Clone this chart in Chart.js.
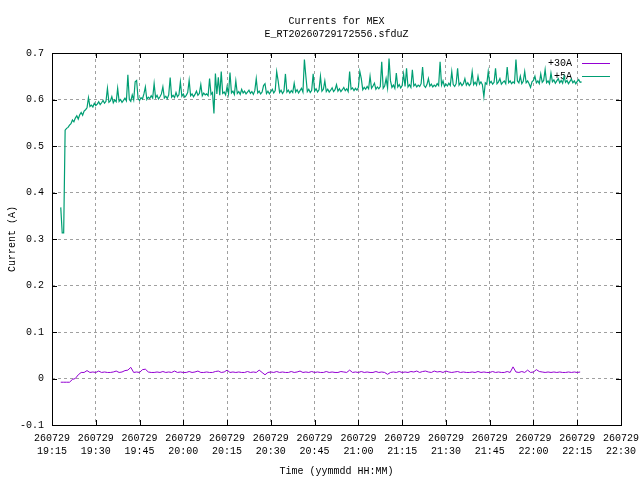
<!DOCTYPE html>
<html lang="en">
<head>
    <meta charset="UTF-8">
    <title>Currents for MEX</title>
    <script src="https://cdn.jsdelivr.net/npm/chart.js"></script>
    <style>
        body { margin: 0; background: #fff; }
        canvas { display: block; }
    </style>
</head>
<body>
<canvas id="myChart" width="640" height="480"></canvas>
<script>
    // x axis: minutes after 19:15
    const xTickDate = '260729';
    const xTickTimes = ['19:15', '19:30', '19:45', '20:00', '20:15', '20:30', '20:45',
        '21:00', '21:15', '21:30', '21:45', '22:00', '22:15', '22:30'];
    const xMax = 195;
    const xStep = 15;

    const yMin = -0.1;
    const yMax = 0.7;
    const yStep = 0.1;

    // +30A, one sample per minute starting at 19:18
    const thirtyAStart = 3.0;
    const thirtyAStep = 1.0;
    const thirtyA = [
        -0.008, -0.008, -0.008, -0.008, -0.002, 0.000, 0.008, 0.013, 0.013, 0.017,
        0.013, 0.014, 0.013, 0.016, 0.013, 0.014, 0.013, 0.013, 0.014, 0.016,
        0.013, 0.014, 0.017, 0.018, 0.024, 0.013, 0.014, 0.013, 0.019, 0.020,
        0.014, 0.013, 0.013, 0.014, 0.013, 0.015, 0.013, 0.014, 0.013, 0.016,
        0.013, 0.014, 0.013, 0.013, 0.015, 0.013, 0.014, 0.016, 0.013, 0.013,
        0.014, 0.013, 0.013, 0.015, 0.016, 0.013, 0.014, 0.018, 0.013, 0.014,
        0.013, 0.014, 0.013, 0.013, 0.015, 0.013, 0.014, 0.013, 0.018, 0.013,
        0.008, 0.013, 0.014, 0.013, 0.015, 0.013, 0.014, 0.013, 0.013, 0.015,
        0.013, 0.014, 0.016, 0.013, 0.014, 0.013, 0.015, 0.013, 0.014, 0.013,
        0.013, 0.015, 0.013, 0.014, 0.013, 0.013, 0.015, 0.014, 0.013, 0.018,
        0.013, 0.014, 0.013, 0.015, 0.013, 0.014, 0.013, 0.013, 0.015, 0.013,
        0.014, 0.013, 0.009, 0.013, 0.014, 0.013, 0.015, 0.013, 0.014, 0.013,
        0.015, 0.014, 0.016, 0.013, 0.015, 0.016, 0.014, 0.013, 0.016, 0.014,
        0.015, 0.013, 0.016, 0.014, 0.013, 0.014, 0.015, 0.013, 0.014, 0.013,
        0.013, 0.014, 0.013, 0.015, 0.013, 0.014, 0.013, 0.013, 0.015, 0.013,
        0.014, 0.013, 0.013, 0.015, 0.013, 0.025, 0.014, 0.013, 0.015, 0.013,
        0.018, 0.013, 0.014, 0.019, 0.015, 0.014, 0.013, 0.014, 0.013, 0.014,
        0.013, 0.014, 0.013, 0.013, 0.014, 0.013, 0.014, 0.013, 0.014
    ];

    // +5A, one sample every 30 s starting at 19:18
    const fiveAStart = 3.0;
    const fiveAStep = 0.5;
    const fiveA = [
        0.368, 0.313, 0.313, 0.534, 0.538, 0.540, 0.545, 0.548, 0.556, 0.552, 0.560, 0.565, 0.558, 0.567, 0.572, 0.566, 0.575, 0.578, 0.582, 0.604,
        0.585, 0.588, 0.584, 0.592, 0.587, 0.590, 0.595, 0.589, 0.593, 0.598, 0.592, 0.596, 0.624, 0.594, 0.597, 0.606, 0.593, 0.599, 0.595, 0.624,
        0.596, 0.600, 0.594, 0.598, 0.603, 0.597, 0.653, 0.600, 0.596, 0.610, 0.599, 0.638, 0.641, 0.602, 0.598, 0.604, 0.601, 0.612, 0.627, 0.600,
        0.605, 0.602, 0.608, 0.603, 0.634, 0.604, 0.609, 0.601, 0.606, 0.612, 0.627, 0.603, 0.607, 0.602, 0.610, 0.647, 0.605, 0.609, 0.604, 0.615,
        0.606, 0.610, 0.638, 0.607, 0.612, 0.605, 0.609, 0.615, 0.641, 0.608, 0.612, 0.606, 0.611, 0.618, 0.609, 0.613, 0.632, 0.608, 0.614, 0.610,
        0.612, 0.608, 0.645, 0.611, 0.615, 0.570, 0.656, 0.612, 0.648, 0.609, 0.660, 0.613, 0.616, 0.610, 0.628, 0.612, 0.658, 0.614, 0.618, 0.611,
        0.640, 0.613, 0.617, 0.611, 0.622, 0.614, 0.618, 0.612, 0.616, 0.620, 0.613, 0.617, 0.611, 0.619, 0.645, 0.614, 0.618, 0.612, 0.616, 0.630,
        0.634, 0.613, 0.618, 0.612, 0.617, 0.622, 0.614, 0.619, 0.660, 0.640, 0.615, 0.620, 0.613, 0.618, 0.655, 0.616, 0.620, 0.614, 0.619, 0.615,
        0.635, 0.616, 0.621, 0.614, 0.619, 0.624, 0.616, 0.686, 0.650, 0.617, 0.622, 0.615, 0.620, 0.655, 0.618, 0.623, 0.616, 0.621, 0.650, 0.618,
        0.622, 0.640, 0.617, 0.622, 0.616, 0.620, 0.625, 0.617, 0.621, 0.632, 0.618, 0.623, 0.617, 0.621, 0.626, 0.619, 0.623, 0.617, 0.660, 0.622,
        0.625, 0.619, 0.624, 0.620, 0.626, 0.660, 0.645, 0.621, 0.626, 0.622, 0.628, 0.623, 0.650, 0.624, 0.629, 0.635, 0.622, 0.627, 0.623, 0.628,
        0.681, 0.624, 0.629, 0.645, 0.625, 0.688, 0.640, 0.626, 0.631, 0.624, 0.657, 0.627, 0.632, 0.625, 0.630, 0.655, 0.628, 0.667, 0.627, 0.632,
        0.626, 0.664, 0.629, 0.633, 0.627, 0.631, 0.628, 0.634, 0.670, 0.630, 0.626, 0.632, 0.645, 0.629, 0.633, 0.627, 0.631, 0.628, 0.634, 0.630,
        0.681, 0.631, 0.640, 0.628, 0.633, 0.629, 0.635, 0.630, 0.660, 0.632, 0.628, 0.634, 0.667, 0.631, 0.636, 0.630, 0.634, 0.645, 0.631, 0.636,
        0.630, 0.634, 0.660, 0.632, 0.637, 0.631, 0.650, 0.633, 0.638, 0.632, 0.606, 0.636, 0.633, 0.660, 0.635, 0.639, 0.633, 0.637, 0.667, 0.634,
        0.638, 0.645, 0.633, 0.637, 0.640, 0.634, 0.670, 0.636, 0.640, 0.634, 0.638, 0.635, 0.686, 0.640, 0.636, 0.650, 0.634, 0.639, 0.660, 0.636,
        0.640, 0.634, 0.626, 0.638, 0.641, 0.650, 0.636, 0.640, 0.634, 0.655, 0.637, 0.641, 0.664, 0.636, 0.640, 0.634, 0.657, 0.638, 0.642, 0.635,
        0.640, 0.645, 0.636, 0.641, 0.635, 0.650, 0.637, 0.641, 0.634, 0.639, 0.644, 0.636, 0.640, 0.634, 0.639, 0.643, 0.637, 0.638
    ];

    const FONT = '"Liberation Mono", "DejaVu Sans Mono", monospace';

    // gnuplot style frame, inward tick marks and key inside the plot
    const gnuplotLook = {
        id: 'gnuplotLook',
        beforeDraw(chart) {
            const ctx = chart.ctx;
            ctx.save();
            ctx.fillStyle = '#fff';
            ctx.fillRect(0, 0, chart.width, chart.height);
            ctx.restore();
        },
        beforeDatasetsDraw(chart) {
            const { ctx, chartArea: a } = chart;
            ctx.save();
            ctx.font = '10px ' + FONT;
            ctx.textAlign = 'right';
            ctx.textBaseline = 'middle';
            chart.data.datasets.forEach((ds, i) => {
                const yy = Math.round(a.top + 10 + i * 12.5) + 0.5;
                ctx.fillStyle = '#000';
                ctx.fillText(ds.label, a.right - 49, yy);
                ctx.strokeStyle = ds.borderColor;
                ctx.lineWidth = 1;
                ctx.beginPath();
                ctx.moveTo(a.right - 39, yy);
                ctx.lineTo(a.right - 11, yy);
                ctx.stroke();
            });
            ctx.restore();
        },
        afterDatasetsDraw(chart) {
            const { ctx, chartArea: a, scales } = chart;
            ctx.save();
            ctx.strokeStyle = '#000';
            ctx.lineWidth = 1;
            ctx.beginPath();
            scales.x.ticks.forEach(t => {
                const px = Math.round(scales.x.getPixelForValue(t.value)) + 0.5;
                ctx.moveTo(px, a.bottom); ctx.lineTo(px, a.bottom - 5);
                ctx.moveTo(px, a.top); ctx.lineTo(px, a.top + 5);
            });
            scales.y.ticks.forEach(t => {
                const py = Math.round(scales.y.getPixelForValue(t.value)) + 0.5;
                ctx.moveTo(a.left, py); ctx.lineTo(a.left + 5, py);
                ctx.moveTo(a.right, py); ctx.lineTo(a.right - 5, py);
            });
            ctx.stroke();
            ctx.strokeRect(Math.round(a.left) + 0.5, Math.round(a.top) + 0.5,
                Math.round(a.right - a.left), Math.round(a.bottom - a.top));
            ctx.restore();
        }
    };

    function toPoints(start, step, values) {
        return values.map((v, i) => ({ x: start + i * step, y: v }));
    }

    const ctx = document.getElementById('myChart').getContext('2d');

    new Chart(ctx, {
        type: 'line',
        data: {
            datasets: [
                {
                    label: '+30A',
                    data: toPoints(thirtyAStart, thirtyAStep, thirtyA),
                    borderColor: '#9400d3',
                    borderWidth: 1,
                    pointRadius: 0,
                    tension: 0
                },
                {
                    label: '+5A',
                    data: toPoints(fiveAStart, fiveAStep, fiveA),
                    borderColor: '#009e73',
                    borderWidth: 1.2,
                    pointRadius: 0,
                    tension: 0
                }
            ]
        },
        options: {
            responsive: false,
            animation: false,
            devicePixelRatio: 1,
            layout: {
                padding: { left: 0, right: 19, top: 0, bottom: 0 }
            },
            scales: {
                x: {
                    type: 'linear',
                    min: 0,
                    max: xMax,
                    afterFit: scale => {
                        scale.height = 55;
                        scale.paddingLeft = 0;
                        scale.paddingRight = 0;
                    },
                    ticks: {
                        stepSize: xStep,
                        autoSkip: false,
                        maxRotation: 0,
                        padding: 7,
                        color: '#000',
                        font: { family: FONT, size: 10, lineHeight: 1.3 },
                        callback: (value, index) => [xTickDate, xTickTimes[index]]
                    },
                    grid: { color: '#a0a0a0', lineWidth: 1, drawTicks: false },
                    border: { display: false, dash: [3, 3] },
                    title: {
                        display: true,
                        text: 'Time (yymmdd HH:MM)',
                        color: '#000',
                        font: { family: FONT, size: 10 },
                        padding: { top: 0, bottom: 3 }
                    }
                },
                y: {
                    min: yMin,
                    max: yMax,
                    afterFit: scale => { scale.width = 52; },
                    ticks: {
                        stepSize: yStep,
                        padding: 8,
                        color: '#000',
                        font: { family: FONT, size: 10 },
                        callback: value => String(Number(value.toFixed(1)))
                    },
                    grid: { color: '#a0a0a0', lineWidth: 1, drawTicks: false },
                    border: { display: false, dash: [3, 3] },
                    title: {
                        display: true,
                        text: 'Current (A)',
                        color: '#000',
                        font: { family: FONT, size: 10 },
                        padding: { top: 6, bottom: 0 }
                    }
                }
            },
            plugins: {
                legend: { display: false },
                tooltip: { enabled: false },
                title: {
                    display: true,
                    fullSize: false,
                    text: ['Currents for MEX', 'E_RT20260729172556.sfduZ'],
                    color: '#000',
                    font: { family: FONT, size: 10, weight: 'normal', lineHeight: 1.3 },
                    padding: { top: 15, bottom: 12 }
                }
            }
        },
        plugins: [gnuplotLook]
    });
</script>
</body>
</html>
